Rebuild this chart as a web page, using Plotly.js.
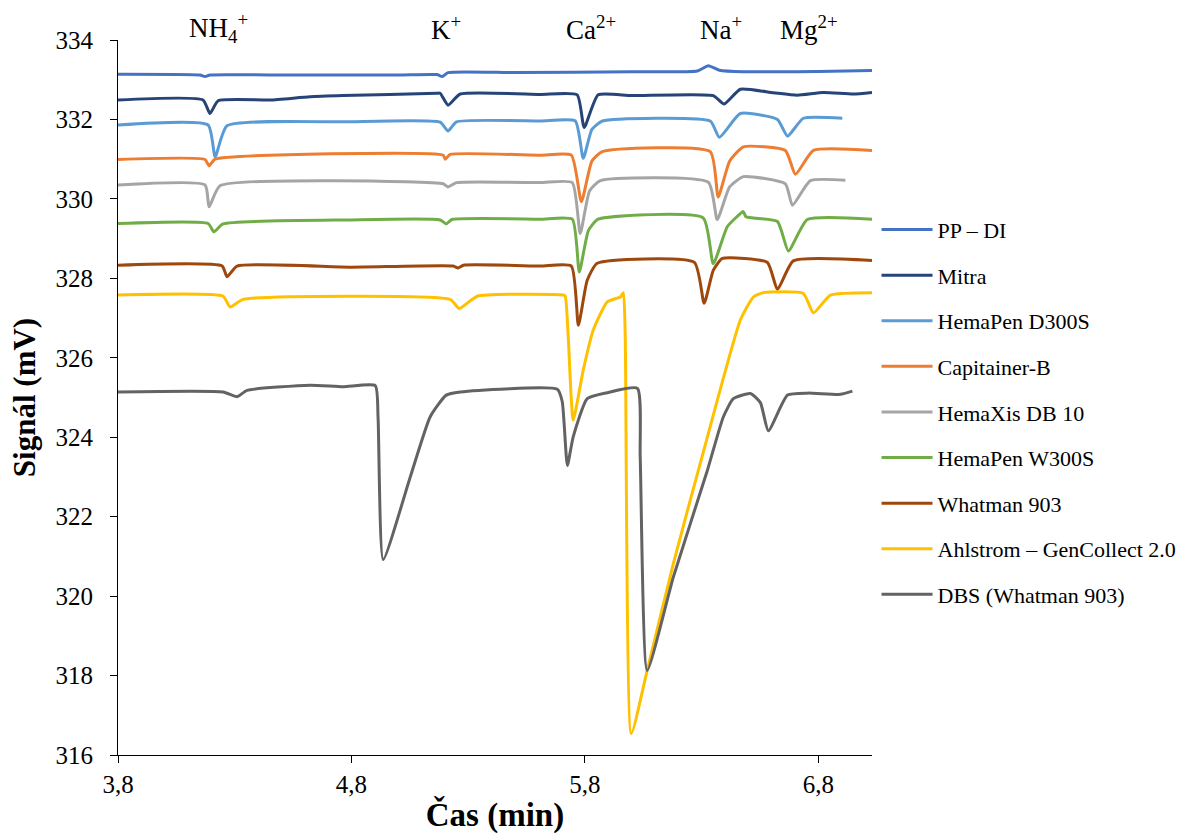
<!DOCTYPE html>
<html>
<head>
<meta charset="utf-8">
<script src="https://cdn.plot.ly/plotly-3.0.1.min.js"></script>
<style>html,body{margin:0;padding:0;background:#fff;}#chart{width:1189px;height:834px;}</style>
</head>
<body>
<div id="chart"></div>
<script>
// ---- data (time in min, signal in mV) ----
const seriesNames = ["PP – DI","Mitra","HemaPen D300S","Capitainer-B","HemaXis DB 10","HemaPen W300S","Whatman 903","Ahlstrom – GenCollect 2.0","DBS (Whatman 903)"];
const seriesColors = ["#4472C4","#264478","#5B9BD5","#ED7D31","#A5A5A5","#70AD47","#9E480E","#FFC000","#636363"];

const ppdiX = [3.80,4.151,4.173,4.194,4.45,5.0,5.167,5.189,5.214,5.5,6.0,6.282,6.329,6.376,6.479,6.8,7.03];
const ppdiY = [333.14,333.12,333.08,333.12,333.12,333.12,333.13,333.08,333.18,333.18,333.20,333.22,333.35,333.24,333.20,333.21,333.23];

const mitraX = [3.80,4.164,4.194,4.229,4.452,4.623,4.764,5.167,5.180,5.214,5.266,5.609,5.767,5.797,5.857,6.0,6.350,6.397,6.466,6.608,6.710,6.822,6.950,7.03];
const mitraY = [332.49,332.49,332.15,332.47,332.49,332.57,332.60,332.66,332.66,332.36,332.64,332.63,332.62,331.80,332.62,332.60,332.60,332.39,332.76,332.67,332.61,332.68,332.64,332.68];

const d300X = [3.80,4.186,4.216,4.267,4.794,5.180,5.214,5.250,5.609,5.759,5.793,5.830,5.875,6.337,6.376,6.466,6.625,6.668,6.736,6.903];
const d300Y = [331.86,331.86,331.06,331.84,331.94,331.93,331.71,331.94,331.96,331.96,331.02,331.75,331.96,331.96,331.55,332.15,332.00,331.58,332.03,332.03];

const capX = [3.80,4.173,4.190,4.216,5.193,5.202,5.223,5.609,5.742,5.785,5.830,5.875,6.337,6.371,6.420,6.479,6.659,6.702,6.779,7.03];
const capY = [330.99,330.99,330.83,331.00,331.10,331.00,331.12,331.10,331.10,329.93,330.95,331.19,331.19,330.05,330.95,331.31,331.22,330.62,331.22,331.22];

const hxX = [3.80,4.173,4.190,4.237,5.193,5.214,5.250,5.609,5.746,5.780,5.820,5.866,6.329,6.367,6.420,6.479,6.659,6.689,6.766,6.916];
const hxY = [330.35,330.35,329.80,330.33,330.38,330.30,330.41,330.41,330.41,329.13,330.20,330.46,330.42,329.48,330.30,330.56,330.38,329.84,330.46,330.47];

const w300X = [3.80,4.186,4.211,4.250,4.794,5.180,5.206,5.230,5.609,5.746,5.776,5.815,5.857,6.307,6.350,6.410,6.466,6.479,6.490,6.625,6.672,6.753,7.03];
const w300Y = [329.38,329.38,329.17,329.37,329.47,329.47,329.37,329.48,329.49,329.49,328.16,329.20,329.49,329.52,328.37,329.30,329.63,329.68,329.55,329.43,328.69,329.48,329.49];

const whatX = [3.80,4.246,4.267,4.310,4.800,5.236,5.257,5.280,5.609,5.742,5.772,5.810,5.853,6.269,6.311,6.350,6.389,6.582,6.625,6.693,7.03];
const whatY = [328.33,328.31,328.04,328.31,328.28,328.31,328.26,328.33,328.31,328.31,326.82,327.95,328.38,328.40,327.37,328.20,328.50,328.40,327.72,328.44,328.45];

const ahlX = [3.80,4.250,4.280,4.336,5.223,5.262,5.339,5.707,5.716,5.729,5.750,5.793,5.836,5.896,5.952,5.965,5.973,5.999,6.067,6.179,6.325,6.466,6.522,6.565,6.736,6.779,6.852,7.03];
const ahlY = [327.58,327.55,327.28,327.47,327.47,327.24,327.55,327.58,327.55,326.50,324.43,325.69,326.70,327.41,327.53,327.64,326.50,316.54,318.13,320.82,324.01,326.95,327.53,327.64,327.62,327.13,327.58,327.64];

const dbsX = [3.80,4.250,4.310,4.353,4.623,4.764,4.902,4.914,4.936,5.052,5.137,5.206,5.266,5.682,5.703,5.725,5.750,5.810,5.896,6.025,6.037,6.067,6.179,6.325,6.393,6.436,6.509,6.552,6.586,6.668,6.753,6.895,6.946];
const dbsY = [325.14,325.14,325.02,325.18,325.31,325.27,325.30,324.50,320.92,323.00,324.51,325.06,325.14,325.21,324.90,323.29,324.01,324.97,325.12,325.23,323.50,318.13,320.48,323.17,324.51,324.97,325.10,324.87,324.16,325.06,325.11,325.08,325.16];

const xTickVals = [3.8,4.8,5.8,6.8];
const yTickVals = [316,318,320,322,324,326,328,330,332,334];
const ionLabels = ["NH<sub>4</sub><sup>+</sup>","K<sup>+</sup>","Ca<sup>2+</sup>","Na<sup>+</sup>","Mg<sup>2+</sup>"];
const ionTimes = [4.229,5.206,5.827,6.385,6.762];

const seriesX = [ppdiX,mitraX,d300X,capX,hxX,w300X,whatX,ahlX,dbsX];
const seriesY = [ppdiY,mitraY,d300Y,capY,hxY,w300Y,whatY,ahlY,dbsY];

const FONT = "Liberation Serif, Times New Roman, serif";

const traces = seriesNames.map((n,i)=>({
  type:"scatter", mode:"lines", name:n,
  x:seriesX[i], y:seriesY[i],
  line:{color:seriesColors[i], width:3, shape:"spline", smoothing:0.5},
  legendgroup:"g"+i
}));

const annotations = ionLabels.map((t,i)=>({
  text:t, x:ionTimes[i], xref:"x", y:1.017, yref:"paper",
  showarrow:false, xanchor:"center", yanchor:"middle",
  font:{family:FONT, size:27, color:"#000"}
}));

const layout = {
  width:1189, height:834,
  margin:{l:118, r:317, t:40, b:79, autoexpand:false},
  paper_bgcolor:"#fff", plot_bgcolor:"#fff",
  separators:",.",
  font:{family:FONT, color:"#000"},
  showlegend:true,
  legend:{x:1.006, xanchor:"left", y:0.764, yanchor:"top", traceorder:"grouped", tracegroupgap:14,
          itemwidth:51,
          font:{family:FONT, size:22, color:"#000"}, bgcolor:"rgba(0,0,0,0)"},
  xaxis:{range:[3.8,7.03], tickvals:xTickVals, tickformat:".1f", showgrid:false, zeroline:false,
         showline:true, linecolor:"#000", linewidth:1, ticks:"outside", ticklen:7, tickcolor:"#000",
         tickfont:{family:FONT, size:25, color:"#000"},
         title:{text:"<b>Čas (min)</b>", font:{family:FONT, size:33, color:"#000"}, standoff:7}},
  yaxis:{range:[316,334], tickvals:yTickVals, showgrid:false, zeroline:false,
         showline:true, linecolor:"#000", linewidth:1, ticks:"outside", ticklen:7, tickcolor:"#000",
         ticklabelstandoff:12,
         tickfont:{family:FONT, size:25, color:"#000"},
         title:{text:"<b>Signál (mV)</b>", font:{family:FONT, size:31, color:"#000"}, standoff:10}},
  annotations:annotations
};

Plotly.newPlot("chart", traces, layout, {staticPlot:true, displayModeBar:false});
</script>
</body>
</html>
